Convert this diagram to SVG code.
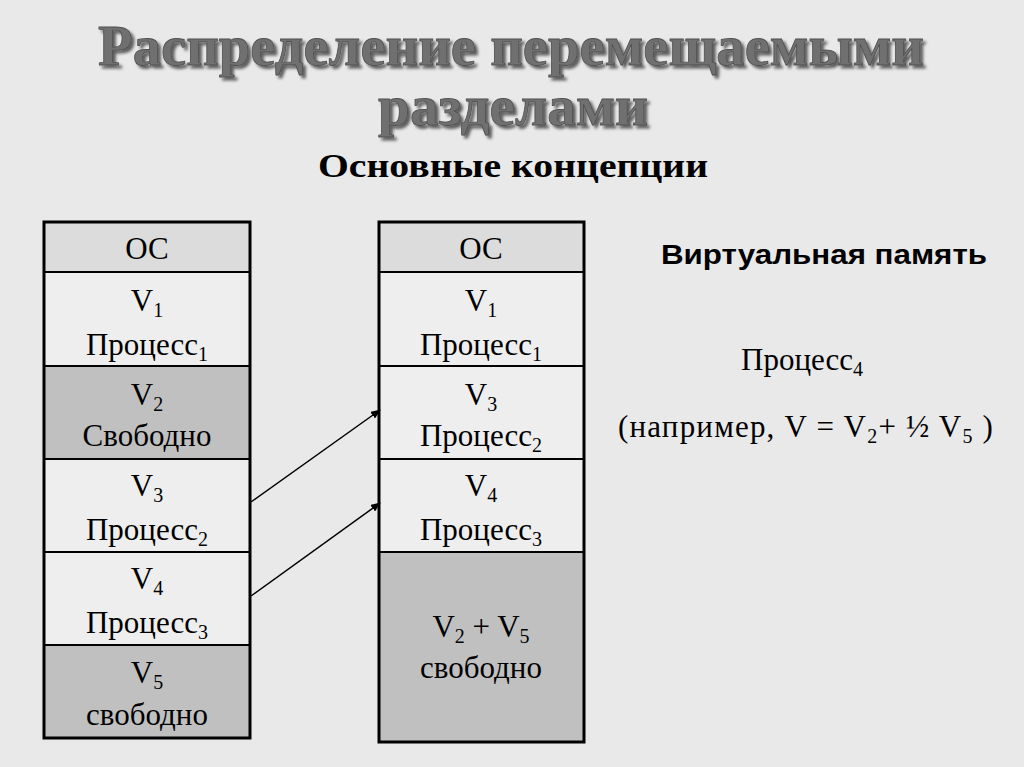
<svg xmlns="http://www.w3.org/2000/svg" width="1024" height="767" viewBox="0 0 1024 767">
<style>
.c{font-family:"Liberation Serif",serif;font-size:31px;fill:#000;text-anchor:middle}
.s{font-size:20px}
.cell{stroke:#000;stroke-width:2}
.os{fill:#dcdcdc}.lt{fill:#eeeeee}.dk{fill:#c0c0c0}
.ttl{font-family:"Liberation Serif",serif;font-weight:bold;font-size:56px;fill:#707070;stroke:#505050;stroke-width:0.8}
</style>
<defs>
<marker id="ah" markerWidth="10" markerHeight="8" refX="9" refY="4" orient="auto" markerUnits="userSpaceOnUse"><path d="M0,0 L10,4 L0,8 z" fill="#000"/></marker>
<filter id="sh"><feDropShadow dx="3" dy="3" stdDeviation="1.5" flood-color="#000" flood-opacity="0.6"/></filter>
</defs>
<rect width="1024" height="767" fill="#e9e9e9"/>
<g filter="url(#sh)">
<text class="ttl" x="511" y="65" text-anchor="middle" textLength="826" lengthAdjust="spacingAndGlyphs">Распределение перемещаемыми</text>
<text class="ttl" x="513" y="125" text-anchor="middle" textLength="270" lengthAdjust="spacingAndGlyphs">разделами</text>
</g>
<text x="513" y="177" font-family="Liberation Serif,serif" font-weight="bold" font-size="34" text-anchor="middle" textLength="390" lengthAdjust="spacingAndGlyphs">Основные концепции</text>
<g id="left">
<rect class="cell os" x="44" y="222" width="206" height="50"/>
<rect class="cell lt" x="44" y="272" width="206" height="94"/>
<rect class="cell dk" x="44" y="366" width="206" height="93"/>
<rect class="cell lt" x="44" y="459" width="206" height="93"/>
<rect class="cell lt" x="44" y="552" width="206" height="93"/>
<rect class="cell dk" x="44" y="645" width="206" height="93"/>
<rect x="44" y="222" width="206" height="516" fill="none" stroke="#000" stroke-width="3"/>
<text class="c" x="147" y="259">ОС</text>
<text class="c" x="147" y="311">V<tspan class="s" dy="6">1</tspan></text>
<text class="c" x="147" y="355">Процесс<tspan class="s" dy="6">1</tspan></text>
<text class="c" x="147" y="405">V<tspan class="s" dy="6">2</tspan></text>
<text class="c" x="147" y="446">Свободно</text>
<text class="c" x="147" y="496">V<tspan class="s" dy="6">3</tspan></text>
<text class="c" x="147" y="540">Процесс<tspan class="s" dy="6">2</tspan></text>
<text class="c" x="147" y="589">V<tspan class="s" dy="6">4</tspan></text>
<text class="c" x="147" y="633">Процесс<tspan class="s" dy="6">3</tspan></text>
<text class="c" x="147" y="683">V<tspan class="s" dy="6">5</tspan></text>
<text class="c" x="147" y="725">свободно</text>
</g>
<g id="right">
<rect class="cell os" x="379" y="222" width="205" height="50"/>
<rect class="cell lt" x="379" y="272" width="205" height="94"/>
<rect class="cell lt" x="379" y="366" width="205" height="93"/>
<rect class="cell lt" x="379" y="459" width="205" height="93"/>
<rect class="cell dk" x="379" y="552" width="205" height="190"/>
<rect x="379" y="222" width="205" height="520" fill="none" stroke="#000" stroke-width="3"/>
<text class="c" x="481" y="259">ОС</text>
<text class="c" x="481" y="311">V<tspan class="s" dy="6">1</tspan></text>
<text class="c" x="481" y="355">Процесс<tspan class="s" dy="6">1</tspan></text>
<text class="c" x="481" y="405">V<tspan class="s" dy="6">3</tspan></text>
<text class="c" x="481" y="446">Процесс<tspan class="s" dy="6">2</tspan></text>
<text class="c" x="481" y="496">V<tspan class="s" dy="6">4</tspan></text>
<text class="c" x="481" y="540">Процесс<tspan class="s" dy="6">3</tspan></text>
<text class="c" x="481" y="637">V<tspan class="s" dy="6">2</tspan><tspan dy="-6">  + V</tspan><tspan class="s" dy="6">5</tspan></text>
<text class="c" x="481" y="678">свободно</text>
</g>
<g id="connectors" stroke="#000" stroke-width="1.5" marker-end="url(#ah)">
<line x1="251" y1="502" x2="380" y2="410"/>
<line x1="251" y1="596" x2="380" y2="503"/>
</g>
<g id="notes">
<text x="824" y="264" font-family="Liberation Sans,sans-serif" font-weight="bold" font-size="27" text-anchor="middle" textLength="326" lengthAdjust="spacingAndGlyphs">Виртуальная память</text>
<text x="741" y="370" font-family="Liberation Serif,serif" font-size="31">Процесс<tspan font-size="20" dy="6">4</tspan></text>
<text x="618" y="437" font-family="Liberation Serif,serif" font-size="31" letter-spacing="1.2">(например, V = V<tspan font-size="20" dy="6">2</tspan><tspan dy="-6">+ ½ V</tspan><tspan font-size="20" dy="6">5</tspan><tspan dy="-6"> )</tspan></text>
</g>
</svg>
